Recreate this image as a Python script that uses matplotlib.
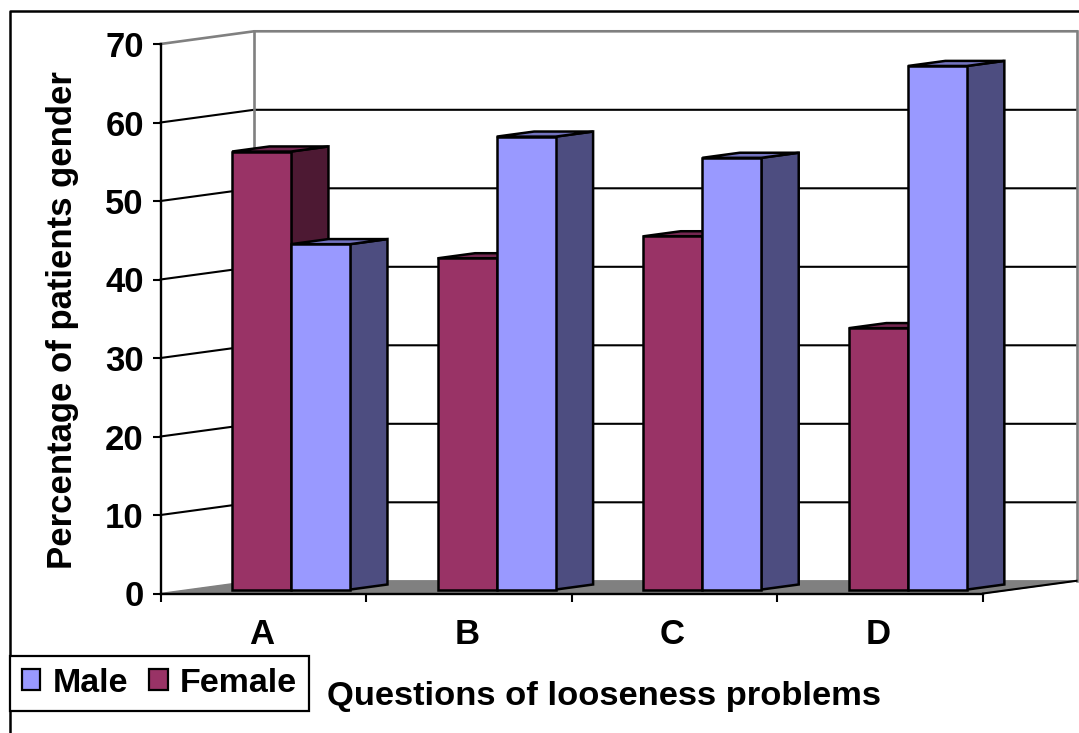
import matplotlib
matplotlib.use("Agg")
import matplotlib.pyplot as plt
from matplotlib.lines import Line2D
from matplotlib.patches import Patch, Polygon

plt.rcParams['font.family'] = ['Liberation Sans', 'DejaVu Sans']
plt.rcParams['font.weight'] = 'bold'

# Data
questions = ["A", "B", "C", "D"]
female = [55.8, 42.2, 45, 33.3]
male = [44, 57.7, 55, 66.7]
y_ticks = [0, 10, 20, 30, 40, 50, 60, 70]

W, H = 1079, 733
fig = plt.figure(figsize=(W / 100, H / 100), dpi=100)

# front plane of the fake 3D box, in pixels
left, right, bottom, top = 160.5, 983, 593.5, 44
ax = fig.add_axes([left / W, 1 - bottom / H, (right - left) / W, (bottom - top) / H])
ax.set_xlim(0, len(questions))
ax.set_ylim(0, 70)
ax.patch.set_visible(False)

# depth of the box in data units
DX = 93.5 / ((right - left) / len(questions))
DY = 12.7 / ((bottom - top) / 70)

BAR_W = 0.287
GAP = 0.207
D0, D1 = 0.31, 0.71

FRONT = {"f": "#993366", "m": "#9999FF"}
SIDE = {"f": "#4D1933", "m": "#4D4D80"}
ROOF = {"f": "#732650", "m": "#7373BF"}


def pt(x, y, d):
    return (x + d * DX, y + d * DY)


def face(points, color, edge="black", lw=1.8, z=3):
    ax.add_patch(Polygon(points, closed=True, facecolor=color, edgecolor=edge,
                         linewidth=lw, joinstyle="miter", clip_on=False, zorder=z))


def bar3d(x, val, kind):
    x2 = x + BAR_W
    face([pt(x2, 0, D0), pt(x2, 0, D1), pt(x2, val, D1), pt(x2, val, D0)], SIDE[kind])
    face([pt(x, val, D0), pt(x2, val, D0), pt(x2, val, D1), pt(x, val, D1)], ROOF[kind])
    face([pt(x, 0, D0), pt(x2, 0, D0), pt(x2, val, D0), pt(x, val, D0)], FRONT[kind])


n = len(questions)
GRAY = "#808080"

# floor
face([pt(0, 0, 0), pt(n, 0, 0), pt(n, 0, 1), pt(0, 0, 1)], GRAY, edge=GRAY, lw=1, z=1)

# gridlines on the two walls
for v in y_ticks[1:]:
    c = GRAY if v == 70 else "black"
    lw = 1.9 if v == 70 else 1.5
    xs, ys = zip(pt(0, v, 0), pt(0, v, 1), pt(n, v, 1))
    ax.plot(xs, ys, color=c, lw=lw, clip_on=False, zorder=1)

# back wall edges
xs, ys = zip(pt(0, 0, 1), pt(0, 70, 1))
ax.plot(xs, ys, color=GRAY, lw=1.9, clip_on=False, zorder=1)
xs, ys = zip(pt(n, 0, 1), pt(n, 70, 1))
ax.plot(xs, ys, color=GRAY, lw=1.9, clip_on=False, zorder=1)
xs, ys = zip(pt(n, 0, 0), pt(n, 0, 1))
ax.plot(xs, ys, color="black", lw=1.5, clip_on=False, zorder=2)

for i in range(n):
    bar3d(i + GAP, female[i], "f")
    bar3d(i + GAP + BAR_W, male[i], "m")

# axes
for s in ["top", "right"]:
    ax.spines[s].set_visible(False)
for s in ["left", "bottom"]:
    ax.spines[s].set_linewidth(1.7)
    ax.spines[s].set_zorder(5)
ax.set_yticks(y_ticks)
ax.set_xticks(range(n + 1))
ax.set_xticklabels([])
ax.set_xticks([i + 0.49 for i in range(n)], minor=True)
ax.set_xticklabels(questions, minor=True)
ax.tick_params(axis="both", which="major", length=6, width=1.5, labelsize=25)
ax.tick_params(axis="x", which="minor", length=0, labelsize=25, pad=18)
ax.tick_params(axis="y", pad=6)

fig.text(63 / W, 1 - 320 / H, "Percentage of patients gender", rotation=90,
         ha="center", va="center", fontsize=25)
fig.text(604 / W, 1 - 696 / H, "Questions of looseness problems",
         ha="center", va="center", fontsize=24.8)

# outer chart border
fig.add_artist(Line2D([9.5 / W, 9.5 / W, 1], [0, 1 - 10.5 / H, 1 - 10.5 / H],
                      color="black", lw=1.8))

# legend
handles = [Patch(facecolor=FRONT["m"], edgecolor="black", linewidth=1.6, label="Male"),
           Patch(facecolor=FRONT["f"], edgecolor="black", linewidth=1.6, label="Female")]
leg = fig.legend(handles=handles, ncol=2, loc="lower left",
                 bbox_to_anchor=(9.5 / W, 1 - 711 / H), borderaxespad=0,
                 fontsize=24.5, fancybox=False, framealpha=1, edgecolor="black",
                 handlelength=0.55, handleheight=0.55, handletextpad=0.35,
                 columnspacing=0.62, borderpad=0.36)
leg.get_frame().set_linewidth(1.6)

fig.savefig("out.png", dpi=100)
